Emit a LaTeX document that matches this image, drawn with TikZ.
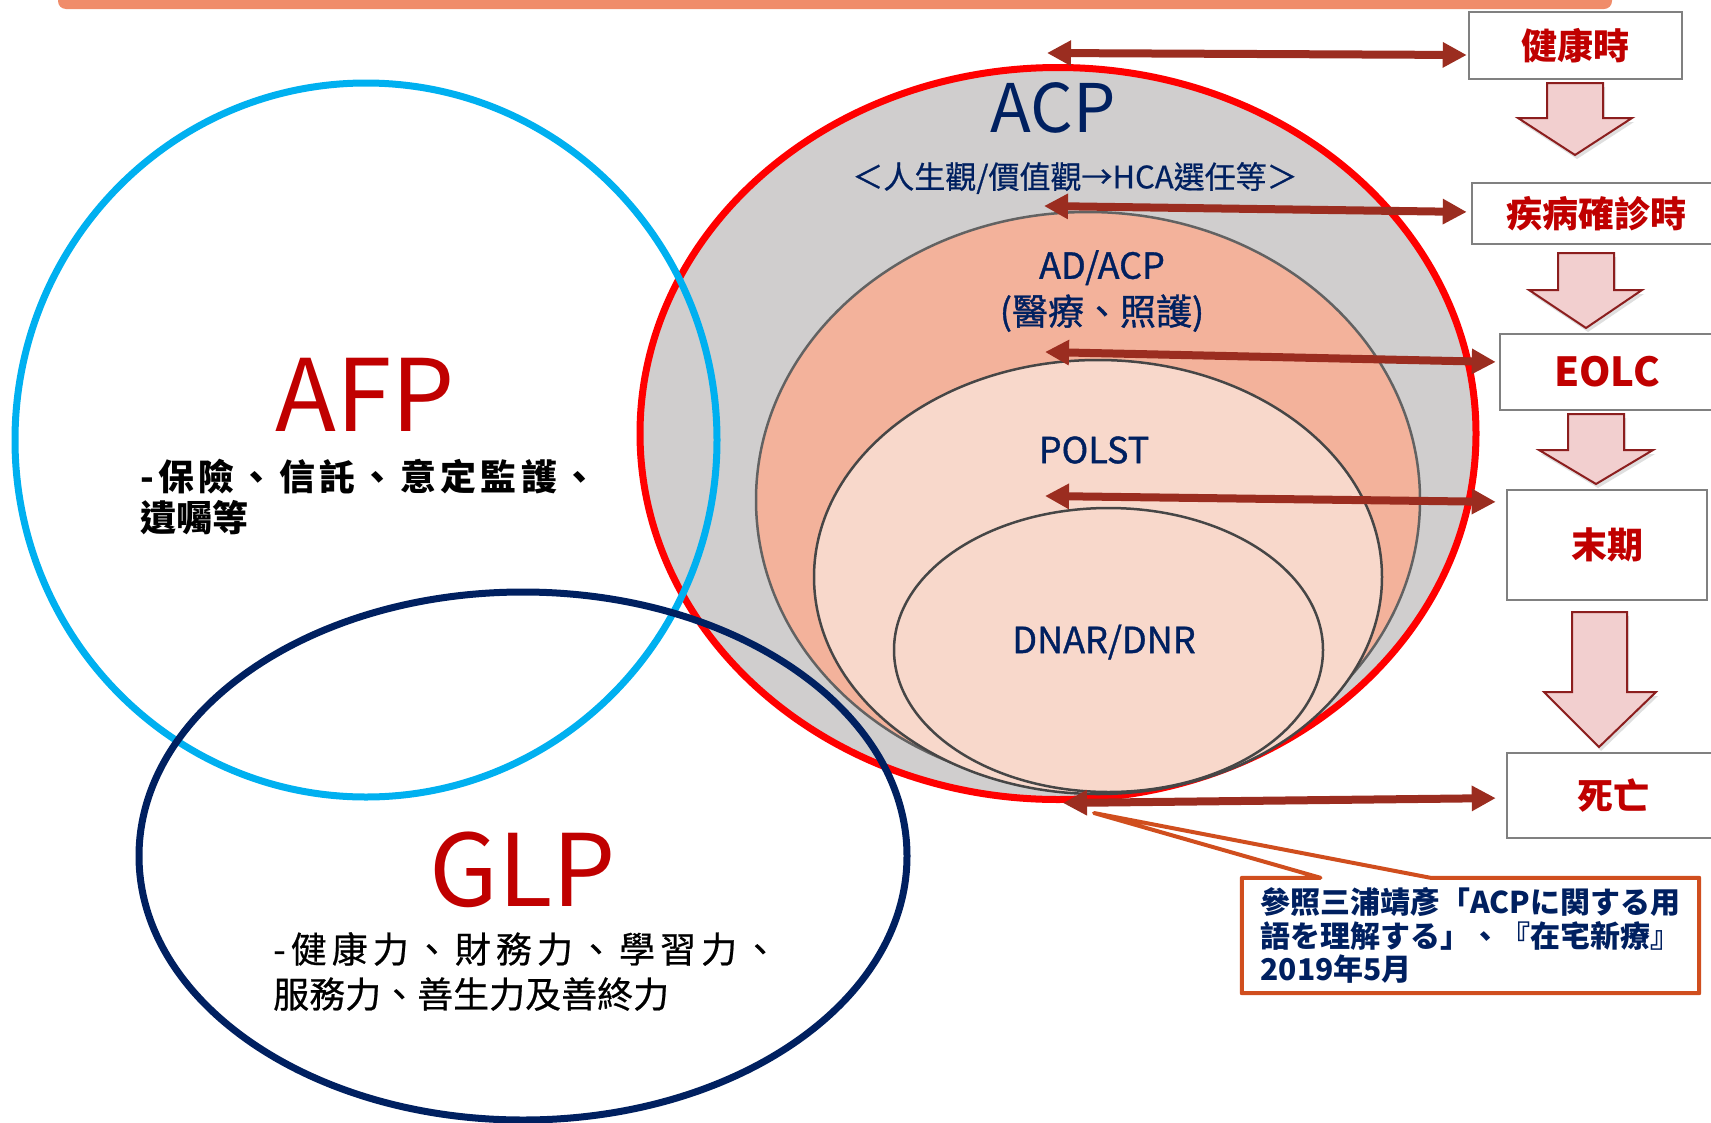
\documentclass[tikz,border=0pt]{standalone}
\usepackage{fontspec}
\setmainfont{Noto Sans CJK TC}
\usetikzlibrary{shapes.geometric,arrows.meta,shadows}

\definecolor{acpnavy}{RGB}{0,32,96}
\definecolor{titlered}{RGB}{192,0,0}
\definecolor{afpblue}{RGB}{0,176,240}
\definecolor{acpgrey}{RGB}{208,206,206}
\definecolor{adfill}{RGB}{243,178,155}
\definecolor{polstfill}{RGB}{248,216,203}
\definecolor{ringline}{RGB}{70,70,70}
\definecolor{linkred}{RGB}{155,45,32}
\definecolor{blockfill}{RGB}{242,207,207}
\definecolor{blockline}{RGB}{140,30,30}
\definecolor{barorange}{RGB}{240,140,106}
\definecolor{refedge}{RGB}{208,78,30}
\definecolor{boxgrey}{RGB}{128,128,128}

\begin{document}
\begin{tikzpicture}[x=1pt,y=-1pt,
  ring/.style={draw,ellipse,inner sep=0pt},
  navytext/.style={text=acpnavy,inner sep=0pt},
  semibold/.style={font=\fontsize{36}{46}\selectfont\addfontfeatures{FakeBold=1}},
  bigred/.style={text=titlered,inner sep=0pt,font=\fontsize{100}{120}\selectfont},
  stagebox/.style={draw=boxgrey,line width=2.5pt,fill=white,inner sep=0pt,text=titlered,font=\bfseries\fontsize{36}{42}\selectfont},
  stagearrow/.style={fill=blockfill,draw=blockline,line width=2pt,line join=miter,drop shadow={shadow xshift=2pt,shadow yshift=-4pt,opacity=0.25}},
  link/.style={{Triangle[length=24pt,width=24pt]}-{Triangle[length=24pt,width=24pt]},line width=8pt,draw=linkred}]
\useasboundingbox (0,0) rectangle (1711,1122);
\fill[barorange,rounded corners=8pt] (58,-30) rectangle (1612,9);

% nested ACP rings
\node[ring,draw=red,line width=7pt,fill=acpgrey,minimum width=836pt,minimum height=732pt] (acp) at (1058,433.5) {};
\node[ring,draw=ringline!85,line width=2.5pt,fill=adfill,minimum width=664pt,minimum height=576pt] (adacp) at (1088,500) {};
\node[ring,draw=ringline,line width=2.5pt,fill=polstfill,minimum width=568pt,minimum height=434pt] (polst) at (1098,577) {};
\node[ring,draw=ringline,line width=2.5pt,fill=polstfill,minimum width=429pt,minimum height=284pt] (dnar) at (1108.5,650) {};

\node[navytext,font=\fontsize{67}{80}\selectfont] (acplbl) at (1053,107.5) {ACP};
\node[navytext,font=\fontsize{31}{38}\selectfont\addfontfeatures{FakeBold=0.6}] (acpsub) at (1075,178) {＜人生觀/價值觀→HCA選任等＞};
\node[navytext,semibold,align=center] (adlbl) at (1102,291) {AD/ACP\\(醫療、照護)};
\node[navytext,semibold] (polstlbl) at (1094,450) {POLST};
\node[navytext,semibold] (dnarlbl) at (1104,642) {DNAR/DNR};

% AFP and GLP
\node[ring,draw=afpblue,line width=7pt,minimum width=702pt,minimum height=714pt] (afp) at (366,440) {};
\node[ring,draw=acpnavy,line width=7pt,minimum width=768pt,minimum height=528pt] (glp) at (523,856) {};
\node[bigred] (afplbl) at (365,394.5) {AFP};
\node[anchor=west,align=left,inner sep=0pt,font=\bfseries\fontsize{36}{41}\selectfont] (afpsub) at (140,497) {{\addfontfeatures{LetterSpace=12}-保險、信託、意定監護、}\\遺囑等};
\node[bigred] (glplbl) at (523,869.5) {GLP};
\node[anchor=west,align=left,inner sep=0pt,font=\fontsize{36}{45}\selectfont\addfontfeatures{FakeBold=0.6}] (glpsub) at (273,971.5) {{\addfontfeatures{LetterSpace=14}-健康力、財務力、學習力、}\\服務力、善生力及善終力};

% stages
\node[stagebox,minimum width=213pt,minimum height=67pt] (health) at (1575.5,45.5) {健康時};
\node[stagebox,minimum width=248pt,minimum height=61pt] (diag) at (1596,213.5) {疾病確診時};
\node[stagebox,minimum width=214pt,minimum height=76pt,font=\bfseries\fontsize{40}{46}\selectfont] (eolc) at (1607,372) {EOLC};
\node[stagebox,minimum width=200pt,minimum height=110pt] (endst) at (1607,545) {末期};
\node[stagebox,minimum width=212pt,minimum height=85pt] (death) at (1613,795.5) {死亡};

\filldraw[stagearrow] (1547,83) -- (1603,83) -- (1603,118) -- (1632,118) -- (1575,155) -- (1518,118) -- (1547,118) -- cycle;
\filldraw[stagearrow] (1558,253) -- (1614,253) -- (1614,290) -- (1642,290) -- (1586,328) -- (1529,290) -- (1558,290) -- cycle;
\filldraw[stagearrow] (1568,414) -- (1624,414) -- (1624,450) -- (1653,450) -- (1596,484) -- (1539,450) -- (1568,450) -- cycle;
\filldraw[stagearrow] (1572,612) -- (1627,612) -- (1627,692) -- (1656,692) -- (1599,747) -- (1544,692) -- (1572,692) -- cycle;

\coordinate (l1) at (1047,53);
\coordinate (l2) at (1044,206);
\coordinate (l3) at (1045,352);
\coordinate (l4) at (1045,496);
\coordinate (l5) at (1063,803);
\draw[link,shorten >=1pt] (l1) -- ([yshift=-9.5pt]health.west);
\draw[link,shorten >=4pt] (l2) -- ([yshift=1.5pt]diag.west);
\draw[link,shorten >=3pt] (l3) -- ([yshift=10pt]eolc.west);
\draw[link,shorten >=10pt] (l4) -- ([yshift=43pt]endst.west);
\draw[link,shorten >=10pt] (l5) -- ([yshift=-2.5pt]death.west);

% source note
\node[navytext,align=left,minimum width=457pt,minimum height=115pt,font=\bfseries\fontsize{30}{33.5}\selectfont] (ref) at (1470.5,935.5) {參照三浦靖彥「ACPに関する用\\語を理解する」、『在宅新療』\\2019年5月};
\coordinate (reftip) at (1094,813);
\draw[refedge,line width=4pt,line join=round] ([xshift=-150pt]ref.north) -- (reftip) -- ([xshift=-40pt]ref.north) -- (ref.north east) -- (ref.south east) -- (ref.south west) -- (ref.north west) -- cycle;
\end{tikzpicture}
\end{document}
